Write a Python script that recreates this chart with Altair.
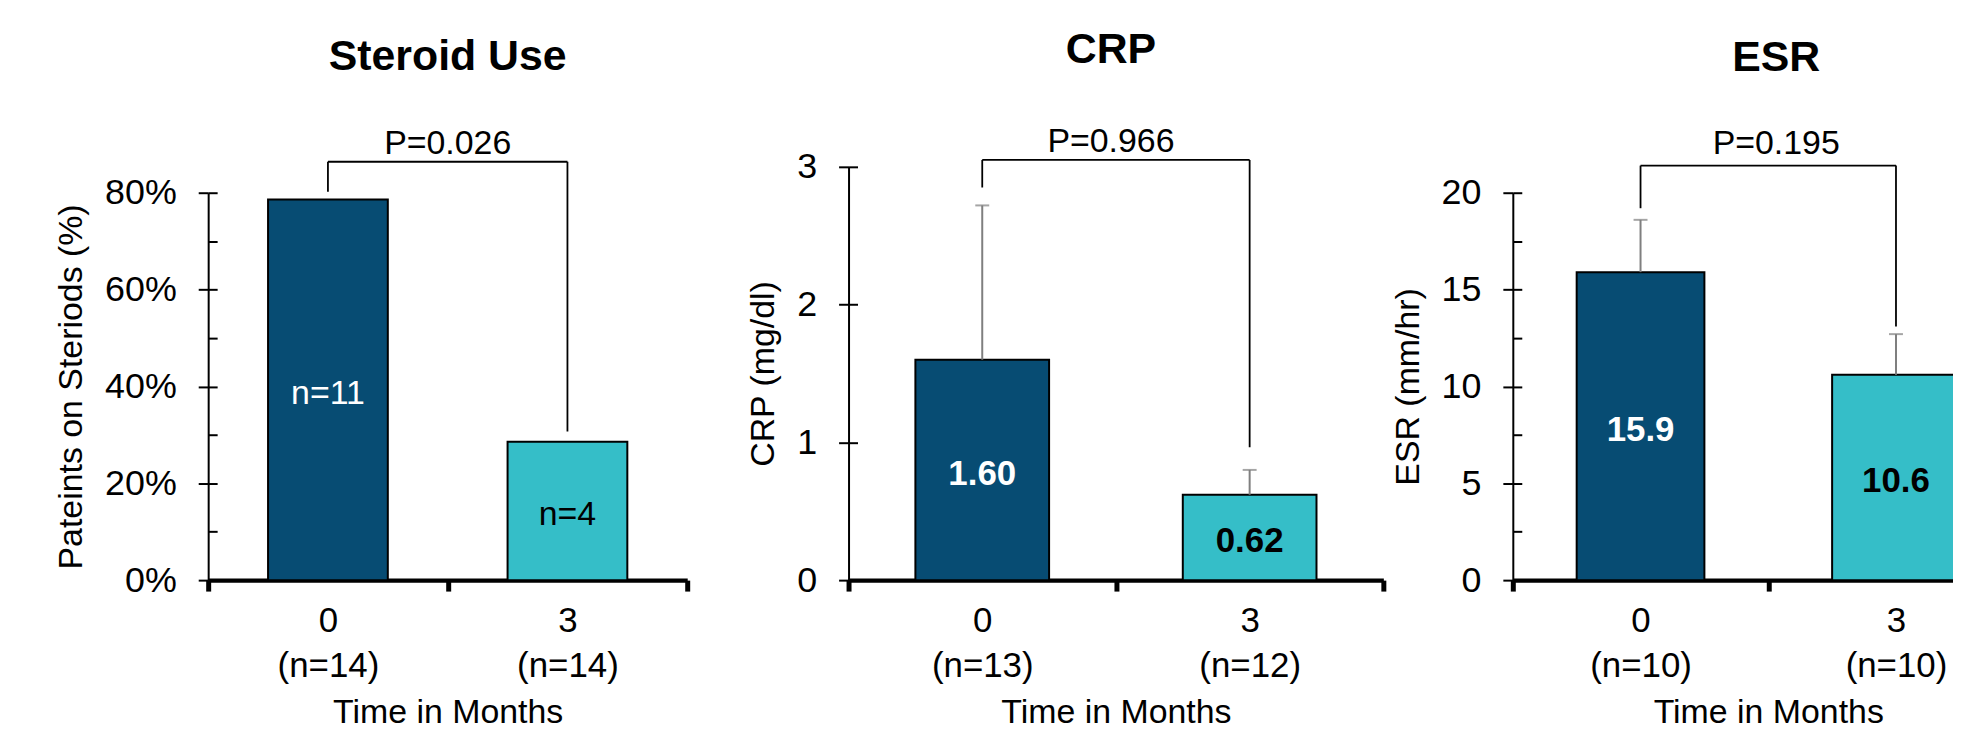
import altair as alt
import pandas as pd

FONT = "Liberation Sans"
DARK = "#074c73"
TEAL = "#35bec8"
GREY = "#7f7f7f"

months = ["0", "3"]

# Steroid use panel
steroid_n = ["(n=14)", "(n=14)"]
steroid_pct = [0.786, 0.286]
steroid_bar_text = ["n=11", "n=4"]
steroid_p = "P=0.026"
steroid_bracket_top = 0.864
steroid_bracket_legs = [0.802, 0.307]
steroid_major = [0, 0.2, 0.4, 0.6, 0.8]
steroid_minor = [0.1, 0.3, 0.5, 0.7]

# CRP panel
crp_n = ["(n=13)", "(n=12)"]
crp_mean = [1.60, 0.62]
crp_upper = [2.72, 0.80]
crp_bar_text = ["1.60", "0.62"]
crp_p = "P=0.966"
crp_bracket_top = 3.05
crp_bracket_legs = [2.85, 0.965]
crp_major = [0, 1, 2, 3]
crp_minor = [0.5, 1.5, 2.5]

# ESR panel
esr_n = ["(n=10)", "(n=10)"]
esr_mean = [15.9, 10.6]
esr_upper = [18.6, 12.7]
esr_bar_text = ["15.9", "10.6"]
esr_p = "P=0.195"
esr_bracket_top = 21.4
esr_bracket_legs = [19.2, 13.1]
esr_major = [0, 5, 10, 15, 20]
esr_minor = [2.5, 7.5, 12.5, 17.5]

H = 415


def panel(title, ptext, ytitle, ns, vals, texts, upper, btop, blegs,
          ymax, major, minor, fmt, width, xrange_px, axis_px,
          text_size, text_weight, title_dx, title_offset, sub_pad):
    cats = [f"{m}|{n}" for m, n in zip(months, ns)]
    df = pd.DataFrame({"cat": cats, "month": months, "val": vals, "txt": texts})
    yscale = alt.Scale(domain=[0, ymax], range=[H, H - axis_px], nice=False, zero=True)
    xscale = alt.Scale(domain=cats, range=[0, xrange_px], paddingInner=0, paddingOuter=0)
    major_list = "[" + ",".join(repr(v) for v in major) + "]"
    is_major = f"indexof({major_list}, datum.value) >= 0"
    xaxis = alt.Axis(
        title="Time in Months", labelExpr="split(datum.label, '|')", labelAngle=0,
        labelFontSize=35, labelLineHeight=45, labelPadding=13, labelColor="black",
        labelFont=FONT, titleFont=FONT,
        titleFontSize=34, titleFontWeight="normal", titleColor="black", titlePadding=12,
        domainColor="black", domainWidth=4.5, tickColor="black", tickWidth=5,
        tickSize=11, tickBand="extent", grid=False)
    yaxis = alt.Axis(
        orient="left", values=sorted(major + minor), format=fmt, title=ytitle,
        labelExpr=f"{is_major} ? datum.label : ''",
        labelFontSize=36, labelPadding=22, labelColor="black", labelFont=FONT,
        titleFont=FONT, titleFontSize=34, titleFontWeight="normal", titleColor="black",
        titlePadding=16, domainColor="black", domainWidth=2, tickColor="black",
        tickWidth=2, tickSize=10,
        tickOpacity=alt.condition(is_major, alt.value(1), alt.value(0)),
        grid=True, gridColor="black", gridWidth=2, gridOpacity=1, gridDash=[9, 3000])
    x_enc = alt.X("cat:N", scale=xscale, axis=xaxis, sort=cats)

    bars = alt.Chart(df).mark_bar(
        stroke="black", strokeWidth=2, width=alt.RelativeBandSize(0.5)
    ).encode(
        x=x_enc,
        y=alt.Y("val:Q", scale=yscale, axis=yaxis),
        fill=alt.Fill("month:N", scale=alt.Scale(domain=months, range=[DARK, TEAL]), legend=None),
    )
    labels = alt.Chart(df).transform_calculate(mid="datum.val / 2").mark_text(
        fontSize=text_size, fontWeight=text_weight, baseline="middle", dy=4, font=FONT
    ).encode(
        x=x_enc,
        y=alt.Y("mid:Q", scale=yscale, axis=yaxis),
        text="txt:N",
        color=alt.Color("month:N", scale=alt.Scale(domain=months, range=["white", "black"]), legend=None),
    )
    layers = [bars, labels]
    if upper is not None:
        edf = pd.DataFrame({"cat": cats, "val": vals, "hi": upper})
        stem = alt.Chart(edf).mark_rule(color=GREY, strokeWidth=2).encode(
            x=x_enc, y=alt.Y("val:Q", scale=yscale, axis=yaxis), y2="hi:Q")
        cap = alt.Chart(edf).mark_tick(color=GREY, thickness=2, size=14).encode(
            x=x_enc, y=alt.Y("hi:Q", scale=yscale, axis=yaxis))
        layers += [stem, cap]
    bdf = pd.DataFrame({"cat": cats, "top": [btop, btop], "bottom": blegs})
    hline = alt.Chart(bdf).mark_line(color="black", strokeWidth=1.8).encode(
        x=x_enc, y=alt.Y("top:Q", scale=yscale, axis=yaxis))
    legs = alt.Chart(bdf).mark_rule(color="black", strokeWidth=1.8).encode(
        x=x_enc, y=alt.Y("top:Q", scale=yscale, axis=yaxis), y2="bottom:Q")
    layers += [hline, legs]
    return alt.layer(*layers).properties(
        width=width, height=H,
        title=alt.TitleParams(
            text=title, subtitle=ptext, fontSize=43, fontWeight="bold", font=FONT,
            color="black", subtitleFont=FONT, subtitleFontSize=34, subtitleColor="black",
            anchor="middle", frame="group", dx=title_dx, offset=title_offset,
            subtitlePadding=sub_pad),
    )


p1 = panel("Steroid Use", steroid_p, "Pateints on Steriods (%)", steroid_n, steroid_pct,
           steroid_bar_text, None, steroid_bracket_top, steroid_bracket_legs,
           0.8, steroid_major, steroid_minor, ".0%", 513, 481, 389, 34, "normal",
           -16, -2.6, 48)
p2 = panel("CRP", crp_p, "CRP (mg/dl)", crp_n, crp_mean, crp_bar_text, crp_upper,
           crp_bracket_top, crp_bracket_legs, 3, crp_major, crp_minor, "d", 537, 537, 415,
           35, "bold", -5, -10.4, 54)
p3 = panel("ESR", esr_p, "ESR (mm/hr)", esr_n, esr_mean, esr_bar_text, esr_upper,
           esr_bracket_top, esr_bracket_legs, 20, esr_major, esr_minor, "d", 513, 513, 389,
           35, "bold", 8, 1.3, 47.4)

chart = alt.hconcat(p1, p2, p3, spacing=130, bounds="flush").properties(
    padding={"left": 46, "top": 19, "right": -74, "bottom": -2}
).configure(font=FONT).configure_view(stroke=None)

chart.save("out.html", embed_options={"renderer": "svg", "actions": False})
